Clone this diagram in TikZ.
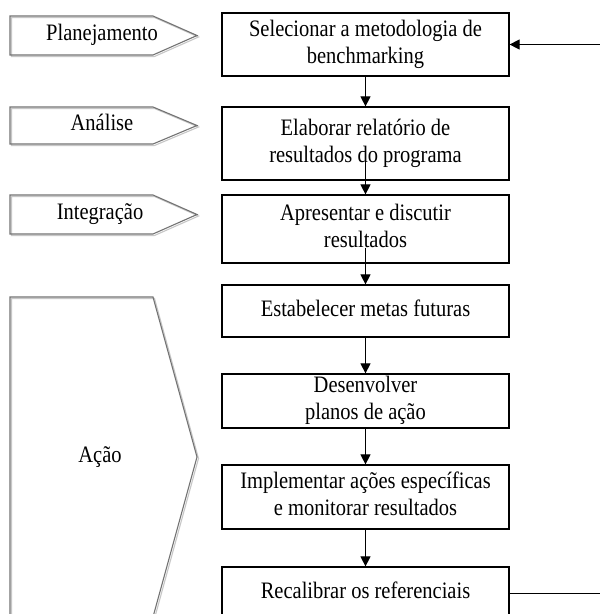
\documentclass[tikz,border=0pt]{standalone}
\usepackage{fontspec}
\setmainfont{Liberation Serif}
\usetikzlibrary{arrows.meta,calc}
\newcommand\tl[1]{\scalebox{1}[1.15]{\begin{tabular}{@{}c@{}}#1\end{tabular}}}
\newcommand\tagpaths[1]{%
  \draw[#1] (10,16) -- (153,16) -- (197,35.5) -- (153,55) -- (10,55) -- cycle;
  \draw[#1] (10,107) -- (153,107) -- (197,125.5) -- (153,144) -- (10,144) -- cycle;
  \draw[#1] (10,195) -- (153,195) -- (197,214.5) -- (153,234) -- (10,234) -- cycle;
  \draw[#1] (10,297) -- (153,297) -- (197,457) -- (153,617) -- (10,617) -- cycle;}
\begin{document}
\begin{tikzpicture}[x=1pt,y=-1pt,
  box/.style={draw=black,line width=1.2pt,minimum width=287pt,inner sep=0pt,
    font=\fontsize{20.5}{23.5}\selectfont},
  arr/.style={-{Triangle[width=10pt,length=10pt]},line width=1pt},
  tag/.style={draw=black!55,line width=1.1pt,line join=miter},
  tagshadow/.style={draw=black!22,line width=1.1pt,line join=miter},
  tagtext/.style={inner sep=0pt,font=\fontsize{20.5}{23.5}\selectfont}]
\clip (0,0) rectangle (600,614);
\fill[white] (0,0) rectangle (600,614);
% phase tags
\begin{scope}[xshift=1.5pt,yshift=-1.5pt]
  \tagpaths{tagshadow}
\end{scope}
\tagpaths{tag}
\node[tagtext] (t1) at (102,35.5) {\tl{Planejamento}};
\node[tagtext] (t2) at (102,125.5) {\tl{Análise}};
\node[tagtext] (t3) at (100,214.5) {\tl{Integração}};
\node[tagtext] (t4) at (100,457) {\tl{Ação}};
% steps
\node[box,minimum height=63pt] (b1) at (365.5,44.5) {\tl{Selecionar a metodologia de\\benchmarking}};
\node[box,minimum height=73pt] (b2) at (365.5,143.5) {\tl{Elaborar relatório de\\resultados do programa}};
\node[box,minimum height=68pt] (b3) at (365.5,229) {\tl{Apresentar e discutir\\resultados}};
\node[box,minimum height=52pt] (b4) at (365.5,311) {\tl{Estabelecer metas futuras}};
\node[box,minimum height=52pt] (b5) at (365.5,401) {\tl{Desenvolver\\planos de ação}};
\node[box,minimum height=64pt] (b6) at (365.5,497) {\tl{Implementar ações específicas\\e monitorar resultados}};
\node[box,minimum height=52pt] (b7) at (365.5,593) {\tl{Recalibrar os referenciais}};
% connectors
\draw[arr] (b1.south) -- (b2.north);
\draw[arr] ($(b2.south)+(0,-25)$) -- (b3.north);
\draw[arr] ($(b3.south)+(0,-16)$) -- (b4.north);
\draw[arr] (b4.south) -- (b5.north);
\draw[arr] (b5.south) -- (b6.north);
\draw[arr] (b6.south) -- (b7.north);
\coordinate (rt) at (612,0);
\draw[arr] (b7.east) -- (b7.east -| rt) -- (rt |- b1.east) -- (b1.east);
\end{tikzpicture}
\end{document}
